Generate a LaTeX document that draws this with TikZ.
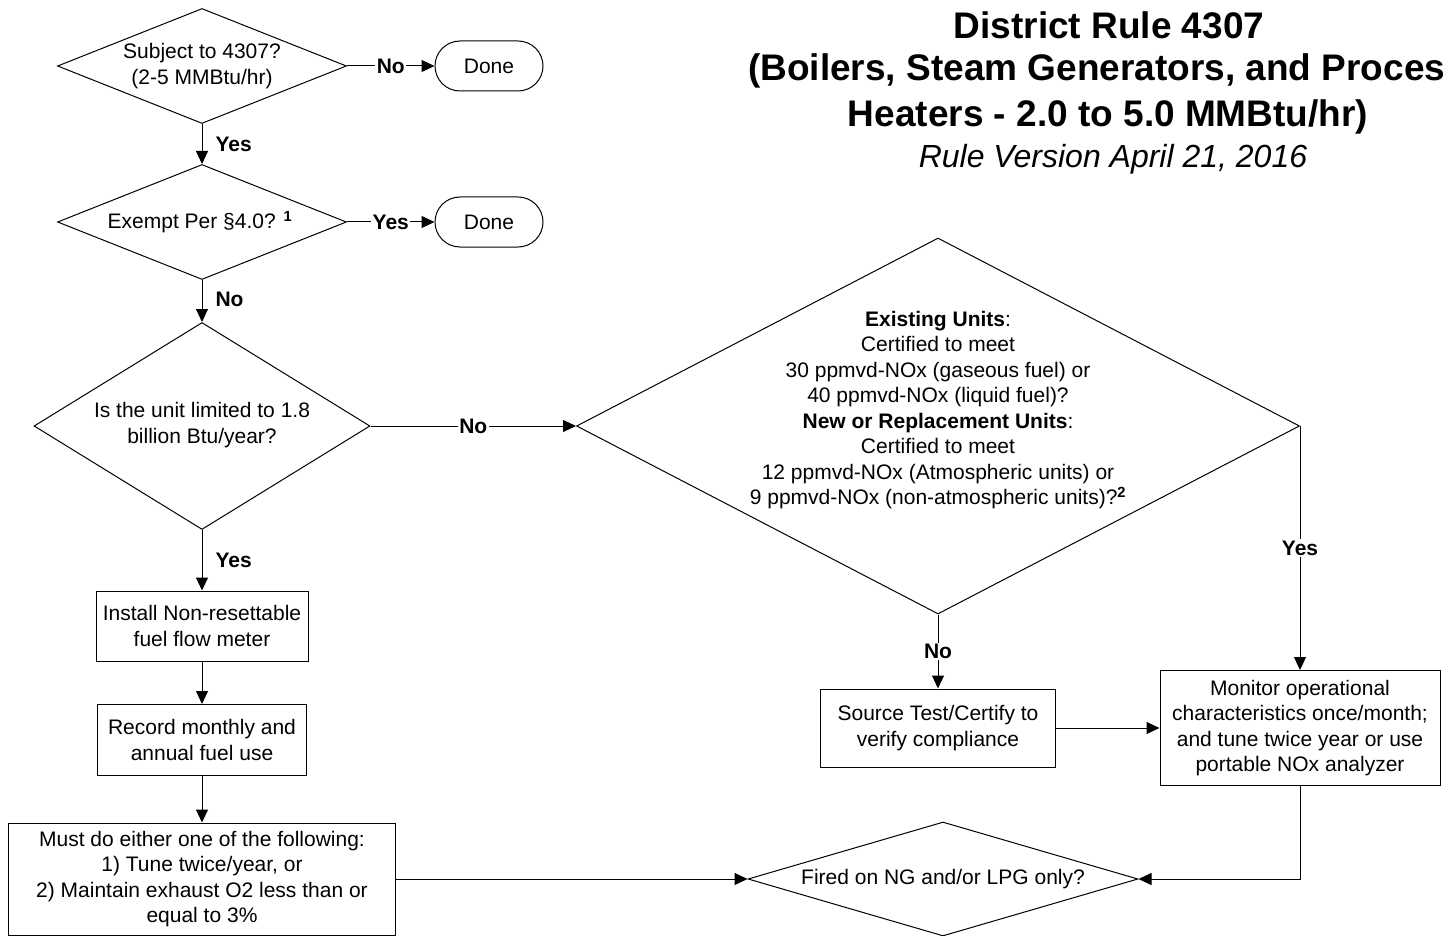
\documentclass[tikz,border=0pt]{standalone}
\usepackage{fontspec}
\setmainfont{Liberation Sans}
\usetikzlibrary{shapes.geometric,arrows.meta,calc}
\begin{document}
\begin{tikzpicture}[x=1pt,y=-1pt,
  every node/.style={font=\fontsize{21}{25.5}\selectfont},
  conn/.style={line width=1pt, draw=black},
  arr/.style={conn, -{Triangle[length=13pt,width=12pt]}},
  dia/.style={diamond, draw, line width=1pt, inner sep=0pt},
  box/.style={rectangle, draw, line width=1pt, inner sep=0pt, align=center},
  term/.style={rectangle, rounded corners=25pt, draw, line width=1pt, inner sep=0pt, minimum width=108pt, minimum height=50pt},
  onlbl/.style={fill=white, inner sep=1.5pt, font=\fontsize{21}{25.5}\selectfont\bfseries},
  sidelbl/.style={anchor=west, xshift=12pt, inner sep=1pt, font=\fontsize{21}{25.5}\selectfont\bfseries},
  ttl/.style={font=\fontsize{37}{42}\selectfont\bfseries, inner sep=0pt},
  dtext/.style={align=center, inner sep=0pt}
]
\useasboundingbox (0,0) rectangle (1451,936);

% Title
\node[ttl, anchor=base] (t1) at (1109,39) {District Rule 4307};
\node[ttl, anchor=base west] (t2) at (748,81) {(Boilers, Steam Generators, and Proces};
\node[ttl, anchor=base] (t3) at (1108,127) {Heaters - 2.0 to 5.0 MMBtu/hr)};
\node[font=\fontsize{32}{36}\selectfont\itshape, inner sep=0pt, anchor=base] (t4) at (1113,168) {Rule Version April 21, 2016};

% Left column
\node[dia, minimum width=289pt, minimum height=115pt] (d1) at (202,66) {};
\node[dtext] (d1t) at (202,66) {Subject to 4307?\\(2-5 MMBtu/hr)};
\node[term] (done1) at (489,66) {Done};

\node[dia, minimum width=289pt, minimum height=115pt] (d2) at (202,222) {};
\node[dtext] (d2t) at (200,222) {Exempt Per §4.0? \textsuperscript{\bfseries 1}};
\node[term] (done2) at (489,222) {Done};

\node[dia, minimum width=336pt, minimum height=207pt] (d3) at (202,426) {};
\node[dtext] (d3t) at (202,425) {Is the unit limited to 1.8\\billion Btu/year?};

\node[box, minimum width=212pt, minimum height=70pt] (inst) at (202,626) {Install Non-resettable\\fuel flow meter};
\node[box, minimum width=209pt, minimum height=71pt] (rec) at (202,740) {Record monthly and\\annual fuel use};
\node[box, minimum width=387pt, minimum height=112pt] (must) at (202,879) {Must do either one of the following:\\1) Tune twice/year, or\\2) Maintain exhaust O2 less than or\\equal to 3\%};

% Right part
\node[dia, minimum width=723pt, minimum height=376pt] (big) at (938,426) {};
\node[dtext] (bigt) at (938,410) {\textbf{Existing Units}:\\Certified to meet\\30 ppmvd-NOx (gaseous fuel) or\\40 ppmvd-NOx (liquid fuel)?\\\textbf{New or Replacement Units}:\\Certified to meet\\12 ppmvd-NOx (Atmospheric units) or\\9 ppmvd-NOx (non-atmospheric units)?\textsuperscript{\bfseries 2}};

\node[box, minimum width=235pt, minimum height=78pt] (src) at (938,728) {Source Test/Certify to\\verify compliance};
\node[box, minimum width=280pt, minimum height=115pt] (mon) at (1300,728) {Monitor operational\\characteristics once/month;\\and tune twice year or use\\portable NOx analyzer};

\node[dia, minimum width=390pt, minimum height=114pt] (bd) at (943,879) {};
\node[dtext] (bdt) at (943,879) {Fired on NG and/or LPG only?};

% Connectors
\draw[arr] (d1.east) -- node[onlbl, pos=0.5] {No} (done1.west);
\draw[arr] (d1.south) -- node[sidelbl, pos=0.5] {Yes} (d2.north);
\draw[arr] (d2.east) -- node[onlbl, pos=0.5] {Yes} (done2.west);
\draw[arr] (d2.south) -- node[sidelbl, pos=0.45] {No} (d3.north);
\draw[arr] (d3.east) -- node[onlbl, pos=0.5] {No} (big.west);
\draw[arr] (d3.south) -- node[sidelbl, pos=0.5] {Yes} (inst.north);
\draw[arr] (inst.south) -- (rec.north);
\draw[arr] (rec.south) -- (must.north);
\draw[arr] (big.south) -- node[onlbl, pos=0.5] {No} (src.north);
\draw[arr] (big.east) -- node[onlbl, pos=0.5] {Yes} (mon.north);
\draw[arr] (src.east) -- (mon.west);
\draw[arr] (must.east) -- (bd.west);
\draw[arr] (mon.south) |- (bd.east);
\end{tikzpicture}
\end{document}
